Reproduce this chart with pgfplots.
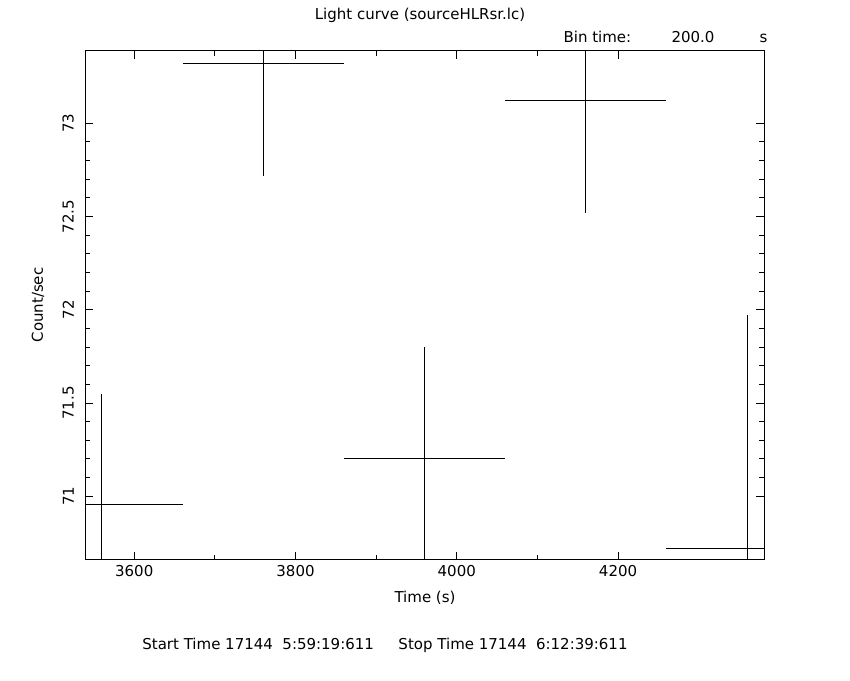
\documentclass[border=0pt]{standalone}
\usepackage{fontspec}
\setmainfont{DejaVu Sans}
\usepackage{pgfplots}
\pgfplotsset{compat=1.18}
\usepackage{pgfplotstable}
\pgfplotstableread{
x y ex ey
3560 70.953 100 0.596
3760 73.323 100 0.606
3960 71.205 100 0.595
4160 73.125 100 0.606
4360 70.721 100 1.25
}\lc
\newcommand{\fs}{\fontsize{15}{15}\selectfont}
\begin{document}
\begin{tikzpicture}[x=1pt,y=1pt]
\useasboundingbox (0,0) rectangle (850,680);
\begin{axis}[
  at={(85.3pt,120pt)}, anchor=south west,
  scale only axis, width=678.7pt, height=509pt,
  xmin=3539.3, xmax=4381, ymin=70.658, ymax=73.388,
  xtick={3600,3800,4000,4200}, ytick={71,71.5,72,72.5,73},
  minor x tick num=1, minor y tick num=4,
  tick align=inside, major tick length=8pt, minor tick length=5pt,
  axis line style={line width=1pt}, every tick/.style={line width=1pt,black},
  tick label style={font=\fs},
  /pgf/number format/assume math mode=true,
  yticklabel style={rotate=90, anchor=south, yshift=8pt},
  xticklabel style={yshift=-2pt},
  xticklabels={3600,3800,4000,4200},
  yticklabels={71,71.5,72,72.5,73},
  xtick pos=both, ytick pos=both,
  xticklabel pos=bottom, yticklabel pos=left,
]
\addplot[draw=none, mark=none,
  error bars/.cd, x dir=both, x explicit, y dir=both, y explicit,
  error mark=none, error bar style={draw=black, solid, line width=1pt}]
  table[x=x, y=y, x error=ex, y error=ey]{\lc};
\end{axis}
\node[font=\fs] at (420,665) {Light curve (sourceHLRsr.lc)};
\node[font=\fs, anchor=base west] at (560,637) {Bin time:};
\node[font=\fs, anchor=base west] at (668,637) {200.0};
\node[font=\fs, anchor=base west] at (756,637) {s};
\node[font=\fs] at (425,82) {Time (s)};
\node[font=\fs, rotate=90] at (38,375) {Count/sec};
\node[font=\fs] at (385,35) {Start Time 17144\ \ 5:59:19:611\quad\ \ Stop Time 17144\ \ 6:12:39:611};
\end{tikzpicture}
\end{document}
